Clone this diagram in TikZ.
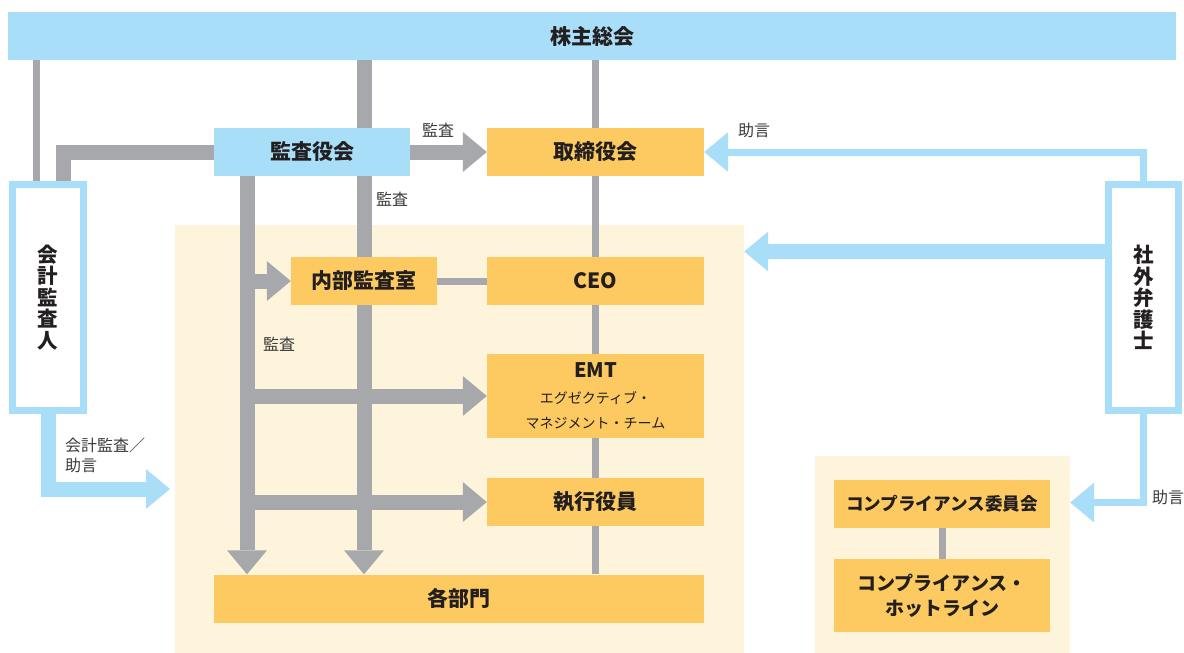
\documentclass[tikz,border=0pt]{standalone}
\usepackage{fontspec}
\newfontfamily\jp{Noto Sans CJK JP}
\usetikzlibrary{arrows.meta}
\definecolor{lblue}{HTML}{A9DEF9}
\definecolor{orng}{HTML}{FDCA62}
\definecolor{cream}{HTML}{FEF4DC}
\definecolor{gline}{HTML}{A7A8AC}
\definecolor{txt}{HTML}{231F20}
\definecolor{ltxt}{HTML}{3A3A3A}
\pgfdeclarelayer{creamlayer}
\pgfdeclarelayer{linelayer}
\pgfsetlayers{creamlayer,linelayer,main}
\tikzset{
  obox/.style={fill=orng, inner sep=0pt, text=txt, align=center,
    font=\jp\bfseries\fontsize{21}{25}\selectfont},
  bbox/.style={obox, fill=lblue},
  vbox/.style={draw=lblue, line width=7pt, fill=white, inner sep=0pt,
    minimum width=70pt, minimum height=226pt, align=center, text=txt,
    font=\jp\bfseries\fontsize{20.5}{21.5}\selectfont},
  area/.style={fill=cream, inner sep=0pt},
  gthin/.style={draw=gline, line width=7pt},
  gthick/.style={draw=gline, line width=15pt},
  tip/.style={-{Triangle[length=24pt,width=40pt,line width=0pt]}},
  bthin/.style={draw=lblue, line width=7pt},
  bthick/.style={draw=lblue, line width=15pt},
  lbl/.style={inner sep=0pt, text=ltxt, font=\jp\fontsize{16}{20}\selectfont}
}
\begin{document}
\begin{tikzpicture}[x=1pt,y=-1pt]
\useasboundingbox (0,0) rectangle (1184,653);
% boxes
\node[bbox, minimum width=1168pt, minimum height=48pt] (sh) at (592,36) {株主総会};
\node[bbox, minimum width=196pt, minimum height=48pt] (kansa) at (312,152) {監査役会};
\node[obox, minimum width=217pt, minimum height=48pt] (board) at (595.5,152) {取締役会};
\node[obox, minimum width=146pt, minimum height=48pt] (naibu) at (364,281) {内部監査室};
\node[obox, minimum width=217pt, minimum height=48pt] (ceo) at (595.5,281) {CEO};
\node[obox, minimum width=217pt, minimum height=84pt] (emt) at (595.5,396)
  {{\fontsize{20}{24}\selectfont EMT}\\[1pt]
   {\mdseries\fontsize{14}{20}\selectfont エグゼクティブ・}\\
   {\mdseries\fontsize{14}{20}\selectfont マネジメント・チーム}};
\node[obox, minimum width=217pt, minimum height=48pt] (exec) at (595.5,502) {執行役員};
\node[obox, minimum width=490pt, minimum height=48pt] (dept) at (459,598.5) {各部門};
\node[vbox, minimum width=71pt] (auditor) at (48,297.5) {会\\計\\監\\査\\人};
\node[vbox] (lawyer) at (1143.5,297.5) {社\\外\\弁\\護\\士};
\node[obox, minimum width=216pt, minimum height=48pt,
  font=\jp\bfseries\fontsize{17.6}{22}\selectfont] (comp) at (942,504) {コンプライアンス委員会};
\node[obox, minimum width=216pt, minimum height=73pt,
  font=\jp\bfseries\fontsize{19}{25}\selectfont] (hot) at (942,595.5) {コンプライアンス・\\ホットライン};
% cream areas
\begin{pgfonlayer}{creamlayer}
\node[area, minimum width=569pt, minimum height=428pt] (area1) at (459.5,439) {};
\node[area, minimum width=255pt, minimum height=197pt] (area2) at (942.5,554.5) {};
\end{pgfonlayer}
% helper coordinates
\coordinate (xa) at (36,0);
\coordinate (xb) at (63,0);
\coordinate (xc) at (364,0);
\coordinate (xd) at (247,0);
\coordinate (xe) at (595,0);
\coordinate (yb) at (0,251.5);
\coordinate (yc) at (0,489);
\coordinate (yd) at (0,502.5);
\coordinate (tipc) at (170,489);
% connectors
\begin{pgfonlayer}{linelayer}
\draw[gthin] (sh.south -| xa) -- (auditor.north -| xa);
\draw[gthin] (sh.south -| xe) -- (dept.north -| xe);
\draw[gthin] (naibu.east) -- (ceo.west);
\draw[gthin] (comp.south) -- (hot.north);
\draw[gthick] (kansa.west) -- (kansa.west -| xb) -- (auditor.north -| xb);
\draw[gthick,tip] (sh.south -| xc) -- (dept.north -| xc);
\draw[gthick,tip] (kansa.south -| xd) -- (dept.north -| xd);
\draw[gthick,tip] (kansa.east) -- (board.west);
\draw[gthick,tip] (naibu.west -| xd) -- (naibu.west);
\draw[gthick,tip] (emt.west -| xd) -- (emt.west);
\draw[gthick,tip] (exec.west -| xd) -- (exec.west);
\draw[bthin,tip] (lawyer.north) -- (lawyer.north |- board.east) -- (board.east);
\draw[bthick,tip] (lawyer.west |- yb) -- (area1.east |- yb);
\draw[bthick,tip] (auditor.south) -- (auditor.south |- yc) -- (tipc);
\draw[bthin,tip] (lawyer.south) -- (lawyer.south |- yd) -- (area2.east |- yd);
\end{pgfonlayer}
% labels
\node[lbl] (l1) at (438,130) {監査};
\node[lbl] (l2) at (392,199) {監査};
\node[lbl] (l3) at (279,344) {監査};
\node[lbl] (l4) at (754,130) {助言};
\node[lbl] (l5) at (1168,497) {助言};
\node[lbl, anchor=west, align=left] (l6) at (65,455) {会計監査／\\助言};
\end{tikzpicture}
\end{document}
